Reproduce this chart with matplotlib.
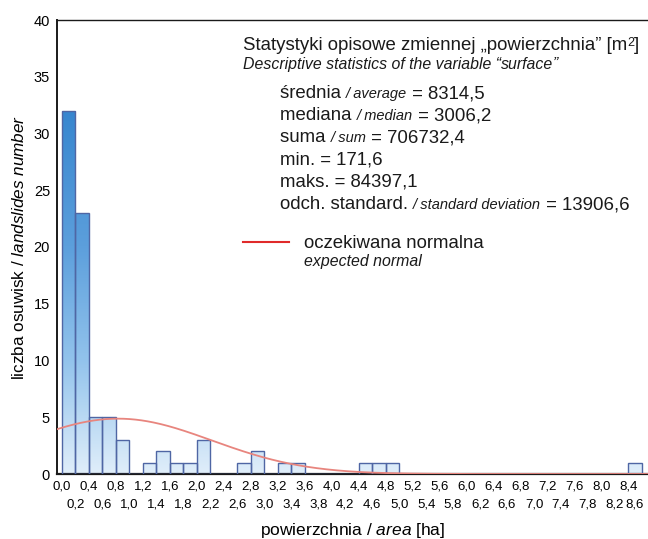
import numpy as np
import matplotlib
matplotlib.use("Agg")
import matplotlib.pyplot as plt
from matplotlib.colors import LinearSegmentedColormap
from matplotlib.font_manager import fontManager
from matplotlib.transforms import ScaledTranslation

# ---------------- data ----------------
tick_labels = ["0,0", "0,2", "0,4", "0,6", "0,8", "1,0", "1,2", "1,4", "1,6", "1,8",
               "2,0", "2,2", "2,4", "2,6", "2,8", "3,0", "3,2", "3,4", "3,6", "3,8",
               "4,0", "4,2", "4,4", "4,6", "4,8", "5,0", "5,2", "5,4", "5,6", "5,8",
               "6,0", "6,2", "6,4", "6,6", "6,8", "7,0", "7,2", "7,4", "7,6", "7,8",
               "8,0", "8,2", "8,4", "8,6"]
counts = [32, 23, 5, 5, 3, 0, 1, 2, 1, 1,
          3, 0, 0, 1, 2, 0, 1, 1, 0, 0,
          0, 0, 1, 1, 1, 0, 0, 0, 0, 0,
          0, 0, 0, 0, 0, 0, 0, 0, 0, 0,
          0, 0, 1]
mean_m2 = 8314.5
median_m2 = 3006.2
sum_m2 = 706732.4
min_m2 = 171.6
max_m2 = 84397.1
sd_m2 = 13906.6
yticks = [0, 5, 10, 15, 20, 25, 30, 35, 40]

edges = np.array([float(s.replace(",", ".")) for s in tick_labels])
lefts = edges[:-1]
width = edges[1] - edges[0]

# ---------------- fonts ----------------
names = {f.name for f in fontManager.ttflist}
MAIN = "Liberation Sans" if "Liberation Sans" in names else "DejaVu Sans"
plt.rcParams["font.family"] = [MAIN, "DejaVu Sans"]
plt.rcParams["mathtext.fontset"] = "custom"
plt.rcParams["mathtext.rm"] = MAIN
plt.rcParams["mathtext.it"] = MAIN + ":italic"

W, H = 648, 539
fig = plt.figure(figsize=(W / 100, H / 100), dpi=100)
ax = fig.add_axes([57 / W, 65 / H, 1 - 57 / W, 454 / H])

XMIN, XMAX = -0.073, 8.69
YMAX = 40

# gradient fill for bars
cmap = LinearSegmentedColormap.from_list(
    "bars", [(0.0, "#e0eefa"), (0.25, "#92c3ec"), (0.5, "#5c9fdc"),
             (0.8, "#3786cf"), (1.0, "#2c78c4")])
grad = np.linspace(0, 1, 256).reshape(-1, 1)

bars = ax.bar(lefts, counts, width=width, align="edge", facecolor="none",
              edgecolor="#4f66a4", linewidth=1.0, zorder=3)
for rect, c in zip(bars, counts):
    if c <= 0:
        continue
    im = ax.imshow(grad, extent=(XMIN, XMAX, 0, YMAX), origin="lower",
                   aspect="auto", cmap=cmap, zorder=2, interpolation="bilinear")
    im.set_clip_path(rect)

# expected normal curve from the stated statistics
mu = mean_m2 / 10000.0
sd = sd_m2 / 10000.0
n = sum(counts)
xs = np.linspace(XMIN, XMAX, 400)
ys = n * width / (sd * np.sqrt(2 * np.pi)) * np.exp(-0.5 * ((xs - mu) / sd) ** 2)
ax.plot(xs, ys, color="#e8857e", lw=1.3, zorder=4)

ax.set_xlim(XMIN, XMAX)
ax.set_ylim(0, YMAX)

# axes styling
ax.spines["right"].set_visible(False)
ax.spines["top"].set_linewidth(1.0)
ax.spines["left"].set_linewidth(1.4)
ax.spines["bottom"].set_linewidth(1.6)
for s in ax.spines.values():
    s.set_color("#1a1a1a")

ax.set_yticks(yticks)
ax.set_yticklabels([str(v) for v in yticks], fontsize=10.5)
ax.tick_params(axis="y", length=0, pad=5)

# staggered x tick labels: even on major ticks, odd on minor ticks (lower row)
ax.set_xticks(edges[0::2])
ax.set_xticklabels(tick_labels[0::2], fontsize=9.5)
ax.set_xticks(edges[1::2], minor=True)
minor_labels = ax.set_xticklabels(tick_labels[1::2], minor=True, fontsize=9.5)
ax.tick_params(axis="x", which="major", length=0, pad=4.5)
ax.tick_params(axis="x", which="minor", length=0, pad=17.5)
# nudge the last label so it stays inside the figure
last = minor_labels[-1]
last.set_transform(last.get_transform() + ScaledTranslation(-5 / 72, 0, fig.dpi_scale_trans))

ax.set_xlabel(r"powierzchnia / $\it{area}$ [ha]", fontsize=12.5, labelpad=7.5)
ax.set_ylabel(r"liczba osuwisk / $\it{landslides\ number}$", fontsize=12.3, labelpad=5)

# --------------- rich text helper ---------------
fig.canvas.draw()
renderer = fig.canvas.get_renderer()


def text_width(s, size, style):
    t1 = fig.text(0, 0, "|" + s + "|", fontsize=size, style=style)
    t2 = fig.text(0, 0, "||", fontsize=size, style=style)
    w = t1.get_window_extent(renderer).width - t2.get_window_extent(renderer).width
    t1.remove()
    t2.remove()
    return w


def rich(x_px, y_px, pieces, color="#1a1a1a"):
    x = x_px
    for item in pieces:
        s, size, style = item[0], item[1], item[2]
        dy = item[3] if len(item) > 3 else 0
        fig.text(x / W, 1 - (y_px - dy) / H, s, fontsize=size, style=style,
                 va="baseline", ha="left", color=color)
        x += text_width(s, size, style)


BIG = 13.4
SM = 10.5
SUB = 11.4

rich(243, 50, [("Statystyki opisowe zmiennej \u201epowierzchnia\u201d [m", BIG, "normal"),
               ("2", 9, "normal", 4), ("]", BIG, "normal")])
rich(243, 69, [("Descriptive statistics of the variable \u201c", SUB, "italic"),
               ("surface", SUB, "italic"), ("\u201d", SUB, "italic")])

stats = [
    ("\u015brednia ", "/ average", " = " + f"{mean_m2:.1f}".replace(".", ",")),
    ("mediana ", "/ median", " = " + f"{median_m2:.1f}".replace(".", ",")),
    ("suma ", "/ sum", " = " + f"{sum_m2:.1f}".replace(".", ",")),
    ("min. = " + f"{min_m2:.1f}".replace(".", ","), "", ""),
    ("maks. = " + f"{max_m2:.1f}".replace(".", ","), "", ""),
    ("odch. standard. ", "/ standard deviation", " = " + f"{sd_m2:.1f}".replace(".", ",")),
]
y0 = 98
for i, (a, b, c) in enumerate(stats):
    pieces = [(a, BIG, "normal")]
    if b:
        pieces.append((b, SM, "italic"))
        pieces.append((c, BIG, "normal"))
    rich(280, y0 + i * 22.2, pieces)

# legend entry for the normal curve
fig.add_artist(plt.Line2D([243 / W, 289 / W], [1 - 242 / H, 1 - 242 / H],
                          color="#e02a2a", lw=1.5))
rich(304, 248, [("oczekiwana normalna", BIG, "normal")])
rich(304, 266, [("expected normal", SUB, "italic")])

fig.savefig("out.png", dpi=100)
